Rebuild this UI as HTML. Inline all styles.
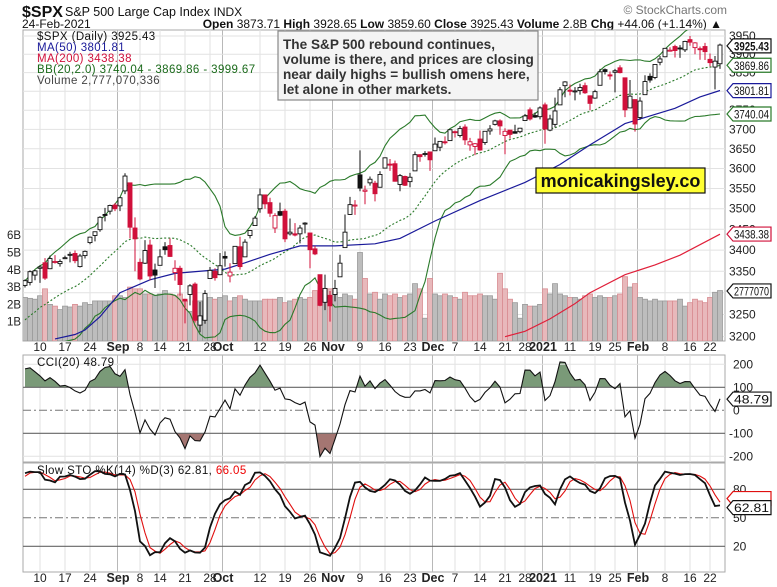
<!DOCTYPE html>
<html><head><meta charset="utf-8"><title>$SPX Daily chart, StockCharts</title>
<style>
html,body{margin:0;padding:0;background:#fff;}
svg{display:block;font-family:"Liberation Sans",Arial,sans-serif;}
</style></head>
<body>
<svg id="chart" width="777" height="587" viewBox="0 0 777 587" xmlns="http://www.w3.org/2000/svg">
<defs>
<clipPath id="cpMain"><rect x="23" y="30" width="702" height="311"/></clipPath>
<clipPath id="cpCci"><rect x="23" y="355" width="702" height="107"/></clipPath>
<clipPath id="cpSto"><rect x="23" y="463" width="702" height="109"/></clipPath>
</defs>
<text x="22" y="17" font-size="16" font-weight="bold" fill="#111">$SPX</text>
<text x="65" y="16" font-size="12.5" fill="#111">S&amp;P 500 Large Cap Index <tspan font-size="12">INDX</tspan></text>
<text x="22" y="28" font-size="12" fill="#111">24-Feb-2021</text>
<text x="722" y="28" font-size="12" fill="#111" text-anchor="end"><tspan font-weight="bold">Open</tspan> 3873.71 <tspan font-weight="bold">High</tspan> 3928.65 <tspan font-weight="bold">Low</tspan> 3859.60 <tspan font-weight="bold">Close</tspan> 3925.43 <tspan font-weight="bold">Volume</tspan> 2.8B <tspan font-weight="bold">Chg</tspan> +44.06 (+1.14%) ▲</text>
<text x="727" y="14" font-size="12" fill="#777" text-anchor="end">© StockCharts.com</text>
<g id="gGrid"></g>
<g id="gVol" clip-path="url(#cpMain)"></g>
<g id="gMain" clip-path="url(#cpMain)"></g>
<g id="gCci" clip-path="url(#cpCci)"></g>
<g id="gSto" clip-path="url(#cpSto)"></g>
<g id="gAxes"></g>
<g id="gLegend" font-size="11.5" letter-spacing="0.4">
<text x="37" y="40" fill="#111">$SPX (Daily) 3925.43</text>
<text x="37" y="51" fill="#1a1a9a">MA(50) 3801.81</text>
<text x="37" y="62" fill="#d0103a">MA(200) 3438.38</text>
<text x="37" y="73" fill="#1a6a1a">BB(20,2.0) 3740.04 - 3869.86 - 3999.67</text>
<text x="37" y="84" fill="#444">Volume 2,777,070,336</text>
<text x="37" y="366" fill="#111">CCI(20) 48.79</text>
<text x="37" y="474" fill="#111">Slow STO %K(14) %D(3) 62.81, <tspan fill="#e00">66.05</tspan></text>
</g>
<g>
<rect x="278" y="31" width="260" height="69" fill="#f4f4f4" stroke="#888" stroke-width="1.2"/>
<text x="283" y="49" font-size="13.6" font-weight="bold" fill="#333">The S&amp;P 500 rebound continues,</text>
<text x="283" y="64" font-size="13.6" font-weight="bold" fill="#333">volume is there, and prices are closing</text>
<text x="283" y="79" font-size="13.6" font-weight="bold" fill="#333">near daily highs = bullish omens here,</text>
<text x="283" y="94" font-size="13.6" font-weight="bold" fill="#333">let alone in other markets.</text>
</g>
<g>
<rect x="536" y="168" width="169" height="25" fill="#ffff33" stroke="#111" stroke-width="1.2"/>
<text x="620.5" y="187" font-size="18" font-weight="bold" fill="#111" text-anchor="middle">monicakingsley.co</text>
</g>
</svg>
<script>
// ---- data ----
const lbHigh=[3184,3171,3179,3186,3235,3198,3238,3218,3228,3258,3278,3279,3280,3227,3242,3243,3262,3250,3272,3302,3307];
const lbLow=[3142,3136,3135,3140,3155,3128,3220,3198,3211,3216,3248,3251,3234,3200,3215,3218,3222,3204,3221,3285,3283];
const lbClose=[3145,3170,3152,3185,3155,3198,3227,3216,3225,3252,3257,3276,3236,3216,3239,3218,3258,3246,3271,3295,3307];
const opens=[3317,3324,3341,3357,3370,3356,3373,3368,3380,3388,3392,3361,3387,3418,3435,3449,3486,3494,3509,
3507,3544,3564,3453,3371,3369,3412,3353,3364,3408,3411,3347,3357,3285,3296,3320,3226,3237,3333,3350,3342,
3385,3339,3368,3408,3384,3435,3459,3500,3534,3515,3453,3493,3494,3439,3439,3439,3465,3441,3403,3342,3278,3294,
3296,3337,3406,3486,3509,3584,3543,3564,3563,3553,3601,3611,3612,3560,3580,3567,3594,3635,3638,3642,
3645,3654,3668,3671,3694,3684,3706,3660,3656,3675,3666,3696,3713,3722,3684,3698,3694,3694,3723,3751,3736,3733,
3764,3698,3713,3764,3815,3803,3801,3802,3815,3788,3782,3816,3858,3844,3851,3863,3836,3756,3778,
3731,3791,3840,3837,3878,3893,3910,3921,3917,3912,3940,3918,3915,3921,3886,3865,3874];
const highs=[3331,3352,3353,3364,3381,3387,3388,3378,3387,3396,3399,3391,3399,3432,3444,3482,3502,3510,3514,
3529,3588,3565,3479,3380,3424,3425,3368,3402,3419,3428,3376,3363,3286,3320,3324,3279,3306,3360,3357,3393,
3397,3369,3409,3432,3426,3447,3482,3550,3534,3527,3489,3515,3500,3476,3465,3460,3467,3441,3410,3342,3342,3304,
3330,3389,3486,3529,3521,3646,3557,3580,3569,3593,3628,3624,3620,3586,3582,3589,3643,3636,3644,3643,
3679,3670,3682,3699,3697,3709,3713,3678,3665,3697,3695,3711,3725,3726,3703,3698,3712,3704,3740,3757,3744,3760,
3770,3738,3783,3811,3827,3818,3811,3820,3823,3789,3804,3860,3861,3853,3860,3870,3836,3830,3778,
3784,3843,3848,3872,3895,3916,3919,3926,3925,3937,3950,3933,3921,3931,3902,3895,3929];
const lows=[3312,3317,3329,3323,3330,3355,3368,3361,3379,3371,3369,3359,3380,3414,3421,3444,3469,3486,3494,
3494,3536,3428,3350,3329,3367,3329,3311,3364,3389,3384,3328,3293,3230,3271,3232,3210,3229,3333,3328,3341,
3361,3324,3367,3354,3384,3428,3458,3490,3500,3480,3441,3482,3419,3435,3433,3416,3440,3357,3388,3269,3260,3234,
3280,3337,3405,3485,3485,3543,3511,3557,3518,3553,3601,3594,3567,3543,3556,3553,3594,3617,3630,3594,
3645,3644,3661,3671,3679,3679,3660,3645,3634,3645,3660,3686,3710,3686,3636,3676,3689,3690,3723,3723,3730,3726,
3663,3695,3705,3764,3784,3789,3776,3791,3793,3750,3780,3816,3845,3831,3797,3848,3732,3756,3694,
3725,3791,3823,3832,3870,3892,3907,3891,3890,3906,3923,3900,3885,3884,3867,3805,3860];
const closes=[3328,3349,3351,3360,3334,3380,3373,3373,3382,3390,3375,3386,3397,3431,3444,3479,3485,3508,3500,
3527,3581,3455,3427,3332,3399,3339,3341,3384,3401,3385,3357,3319,3281,3316,3237,3247,3298,3352,3335,3363,
3381,3348,3409,3361,3419,3447,3477,3534,3512,3489,3483,3484,3427,3443,3436,3453,3465,3401,3391,3271,3310,3270,
3310,3369,3443,3510,3509,3551,3546,3573,3537,3585,3627,3610,3568,3582,3558,3578,3635,3630,3638,3622,
3662,3669,3667,3699,3692,3702,3673,3668,3663,3647,3695,3701,3722,3709,3695,3687,3690,3703,3735,3727,3732,3756,
3701,3727,3748,3804,3825,3800,3801,3810,3796,3768,3799,3852,3853,3841,3855,3850,3751,3787,3714,
3774,3826,3830,3872,3887,3916,3911,3910,3916,3935,3933,3931,3914,3907,3877,3881,3925];
const volumes=[2.4,2.35,2.3,2.5,2.9,2.0,1.9,1.7,1.9,1.85,2.0,1.9,2.1,2.0,2.2,2.2,2.2,2.2,2.5,
2.5,2.4,3.0,2.9,2.9,2.6,2.6,2.5,2.6,2.8,2.6,2.5,2.6,2.2,1.6,2.2,2.2,2.2,2.4,2.3,2.4,
2.5,2.2,2.4,2.5,2.3,2.2,2.2,2.2,2.3,2.3,2.3,2.4,2.1,2.2,2.3,2.4,2.3,2.4,2.8,2.7,2.6,2.9,
2.7,2.4,2.6,2.5,2.3,5.0,3.5,2.6,2.7,2.3,2.6,2.5,2.6,2.4,2.5,2.6,3.2,2.9,1.2,3.5,
2.6,2.5,2.6,2.5,2.4,2.3,2.7,2.5,2.5,2.6,2.5,2.5,2.3,3.8,2.9,2.3,2.1,1.2,2.0,1.9,1.9,2.0,
2.9,2.6,3.2,2.6,2.5,2.4,2.4,2.3,2.5,2.6,2.4,2.5,2.4,2.4,2.5,2.6,3.6,3.0,3.2,
2.4,2.3,2.2,2.3,2.2,2.2,2.2,2.2,2.3,1.9,2.1,2.3,2.2,2.1,2.4,2.7,2.8];
const ma50Idx=[6,10,12,15,19,25,30,40,44,49,55,62,70,75,82,91,100,107,113,120,125,130,135,139];
const ma50Val=[3195,3205,3215,3245,3300,3330,3345,3355,3370,3390,3410,3410,3415,3428,3470,3520,3565,3610,3660,3715,3735,3755,3785,3802];
const ma200Idx=[96,100,105,110,113,120,126,131,139];
const ma200Val=[3200,3212,3240,3275,3300,3342,3365,3388,3438];
const tickIdx=[3,8,13,19,23,27,32,37,40,47,52,57,62,67,72,77,82,86,91,96,100,104,109,114,118,123,128,133,137];
const tickLabels=['10','17','24','Sep','8','14','21','28','Oct','12','19','26','Nov','9','16','23','Dec','7','14','21','28','2021','11','19','25','Feb','8','16','22'];
const monthTicks=['Sep','Oct','Nov','Dec','2021','Feb'];
const priceTicks=[3200,3250,3300,3350,3400,3450,3500,3550,3600,3650,3700,3750,3800,3850,3900,3950];
const volTicks=[1,2,3,4,5,6];
const cciTicks=[200,100,0,-100,-200];
const stoTicks=[80,50,20];

// ---- scales ----
const NS='http://www.w3.org/2000/svg';
const n=closes.length;
const X0=23,X1=725;
function xI(i){return 720-5*(n-1-i);}
function yP(p){return 36+(Math.log(3950)-Math.log(p))*1428;}
function yV(v){return 339-17.3*v;}
function yC(c){return 410.3-0.23*c;}
function yS(s){return 565.3-0.95*s;}
function mk(tag,attrs,parent){const e=document.createElementNS(NS,tag);for(const k in attrs)e.setAttribute(k,attrs[k]);parent.appendChild(e);return e;}
const gGrid=document.getElementById('gGrid'),gVol=document.getElementById('gVol'),gMain=document.getElementById('gMain'),
gCci=document.getElementById('gCci'),gSto=document.getElementById('gSto'),gAxes=document.getElementById('gAxes');

// ---- panels & grid ----
const panels=[[30,341],[355,462],[463,572]];
panels.forEach((p,k)=>{
  const r=mk('rect',{x:X0,y:p[0],width:X1-X0,height:p[1]-p[0],fill:'#fff',stroke:'#aaa','stroke-width':1},gGrid);
  
  
  tickIdx.forEach((ti,j)=>{
    const isM=monthTicks.includes(tickLabels[j]);
    const l=mk('line',{x1:xI(ti)+(isM?-2.5:0),x2:xI(ti)+(isM?-2.5:0),y1:p[0],y2:p[1],stroke:isM?'#b8b8b8':'#e2e2e2','stroke-width':1},gGrid);
    
    
  });
});
priceTicks.forEach(v=>{
  const y=yP(v);
  const l=mk('line',{x1:X0,x2:X1,y1:y,y2:y,stroke:'#e2e2e2'},gGrid);
  
  
  const t=mk('text',{x:729,y:y+4,'font-size':12,fill:'#222'},gAxes);
  t.textContent=v;
  
  
});
volTicks.forEach(v=>{
  const t=mk('text',{x:7,y:yV(v)+4,'font-size':11.5,fill:'#222'},gAxes);
  t.textContent=v+'B';
  
  
});
[[347],[578]].forEach((r,k)=>{
  tickIdx.forEach((ti,j)=>{
    const isM=monthTicks.includes(tickLabels[j]);
    const t=mk('text',{x:xI(ti)+(isM?-2:0),y:r[0]+4,'font-size':isM?12.5:12,'font-weight':isM?'bold':'normal',fill:'#222','text-anchor':'middle'},gAxes);
    t.textContent=tickLabels[j];
    
    
  });
});

// ---- volume ----
for(let i=0;i<n;i++){
  const down=i>0&&closes[i]<closes[i-1];
  const b=mk('rect',{x:xI(i)-2.5,y:yV(volumes[i]),width:5,height:339-yV(volumes[i])+2,fill:down?'#e8b8bb':'#bdbdbd',stroke:down?'#d88c92':'#9a9a9a','stroke-width':0.8},gVol);
  
  
}

// ---- indicators computed from data ----
const allH=lbHigh.concat(highs),allL=lbLow.concat(lows),allC=lbClose.concat(closes);
const L=lbClose.length;
const bbU=[],bbM=[],bbLo=[],cci=[],fastK=[];
for(let i=0;i<n;i++){
  const j=i+L;
  let s=0;for(let k=j-19;k<=j;k++)s+=allC[k];const m=s/20;
  let v=0;for(let k=j-19;k<=j;k++)v+=(allC[k]-m)**2;const sd=Math.sqrt(v/20);
  bbM.push(m);bbU.push(m+2*sd);bbLo.push(m-2*sd);
  const tp=k=>(allH[k]+allL[k]+allC[k])/3;
  let ts=0;for(let k=j-19;k<=j;k++)ts+=tp(k);const tm=ts/20;
  let md=0;for(let k=j-19;k<=j;k++)md+=Math.abs(tp(k)-tm);md/=20;
  cci.push((tp(j)-tm)/(0.015*md));
}
for(let i=-4;i<n;i++){
  const j=i+L;let hh=-1e9,ll=1e9;
  for(let k=j-13;k<=j;k++){hh=Math.max(hh,allH[k]);ll=Math.min(ll,allL[k]);}
  fastK.push(100*(allC[j]-ll)/(hh-ll));
}
const slowK=[];for(let i=2;i<fastK.length;i++)slowK.push((fastK[i]+fastK[i-1]+fastK[i-2])/3);
const slowD=[];for(let i=2;i<slowK.length;i++)slowD.push((slowK[i]+slowK[i-1]+slowK[i-2])/3);
const kS=slowK.slice(slowK.length-n);

function pathFrom(xs,ys){return xs.map((x,i)=>(i?'L':'M')+x.toFixed(1)+','+ys[i].toFixed(1)).join('');}
const xsAll=closes.map((c,i)=>xI(i));

function line(g,d,color,w,dash,name){
  const p=mk('path',{d:d,fill:'none',stroke:color,'stroke-width':w},g);
  if(dash)p.setAttribute('stroke-dasharray',dash);
  
  
  return p;
}
line(gMain,pathFrom(xsAll,bbU.map(yP)),'#2a7a2a',1.1,null,'bb-upper-band');
line(gMain,pathFrom(xsAll,bbLo.map(yP)),'#2a7a2a',1.1,null,'bb-lower-band');
line(gMain,pathFrom(xsAll,bbM.map(yP)),'#2a7a2a',1.1,'2,2','bb-middle-band');
line(gMain,pathFrom(ma50Idx.map(xI),ma50Val.map(yP)),'#1a1a9a',1.2,null,'ma50-line');
line(gMain,pathFrom(ma200Idx.map(xI),ma200Val.map(yP)),'#e0203a',1.2,null,'ma200-line');

// ---- candles ----
for(let i=0;i<n;i++){
  const x=xI(i);const up=closes[i]>=opens[i];
  const col=(i>0&&closes[i]<closes[i-1])?'#d0103a':'#111';
  const w=mk('line',{x1:x,x2:x,y1:yP(highs[i]),y2:yP(lows[i]),stroke:col,'stroke-width':1},gMain);
  
  
  const yt=yP(Math.max(opens[i],closes[i])),yb=yP(Math.min(opens[i],closes[i]));
  const b=mk('rect',{x:x-2,y:yt,width:4,height:Math.max(1,yb-yt),fill:up?'#fff':col,stroke:col,'stroke-width':0.9},gMain);
  
  
}

// ---- CCI ----
const cciY=cci.map(yC);
const cciD=pathFrom(xsAll,cciY);
const up100=yC(100),dn100=yC(-100);
const cpA=mk('clipPath',{id:'cAbove'},gCci);
mk('rect',{x:X0,y:350,width:X1-X0,height:up100-350},cpA);
const cpB=mk('clipPath',{id:'cBelow'},gCci);
mk('rect',{x:X0,y:dn100,width:X1-X0,height:60},cpB);
const fa=mk('path',{d:cciD+'L'+xsAll[n-1]+','+up100+'L'+xsAll[0]+','+up100+'Z',fill:'#7a9a78','clip-path':'url(#cAbove)'},gCci);


const fb=mk('path',{d:cciD+'L'+xsAll[n-1]+','+dn100+'L'+xsAll[0]+','+dn100+'Z',fill:'#a47672','clip-path':'url(#cBelow)'},gCci);


cciTicks.forEach(v=>{
  const y=yC(v);
  if(v===100||v===-100){const l=mk('line',{x1:X0,x2:X1,y1:y,y2:y,stroke:'#666','stroke-width':1.2},gCci);}
  else if(v===0){const l=mk('line',{x1:X0,x2:X1,y1:y,y2:y,stroke:'#777','stroke-width':1,'stroke-dasharray':'8,3,2,3'},gCci);}
  else{const l=mk('line',{x1:X0,x2:X1,y1:y,y2:y,stroke:'#e2e2e2'},gCci);}
  const t=mk('text',{x:v<0?729:733,y:y+4,'font-size':12,fill:'#222'},gAxes);
  t.textContent=v;
  
  
});
line(gCci,cciD,'#111',1.1,null,'cci-line');

// ---- STO ----
stoTicks.forEach(v=>{
  const y=yS(v);
  const l=mk('line',{x1:X0,x2:X1,y1:y,y2:y,stroke:v===50?'#777':'#666','stroke-width':v===50?1:1.2},gSto);
  if(v===50)l.setAttribute('stroke-dasharray','8,3,2,3');
  
  
  const t=mk('text',{x:733,y:y+4,'font-size':12,fill:'#222'},gAxes);
  t.textContent=v;
  
  
});
line(gSto,pathFrom(xsAll,slowD.slice(slowD.length-n).map(yS)),'#e01010',1.1,null,'sto-d-line');
line(gSto,pathFrom(xsAll,kS.map(yS)),'#111',1.8,null,'sto-k-line');

// ---- right-side value tags ----
function tag(y,text,color,bold,name){
  const g=mk('g',{},gAxes);
  
  
  mk('path',{d:`M727,${y} L733,${y-7} L771,${y-7} L771,${y+7} L733,${y+7} Z`,fill:'#fff',stroke:color,'stroke-width':1.2},g);
  if(text){
    const t=mk('text',{x:734,y:y+4.5,'font-size':12,'font-weight':bold?'bold':'normal',fill:'#111',textLength:35,lengthAdjust:'spacingAndGlyphs'},g);
    t.textContent=text;
  }
}
tag(yP(3925.43)+1,'3925.43','#111',true,'last-price-tag');
tag(yP(3869.86),'3869.86','#2a7a2a',false,'bb-mid-tag');
tag(yP(3801.81),'3801.81','#1a1a9a',false,'ma50-tag');
tag(yP(3740.04),'3740.04','#2a7a2a',false,'bb-lower-tag');
tag(yP(3438.38),'3438.38','#d0103a',false,'ma200-tag');
tag(yV(2.777),'2777070','#111',false,'volume-tag');
tag(yC(48.79),'48.79','#111',false,'cci-tag');
tag(yS(66.05)-4,'','#e01010',false,'sto-d-tag');
tag(yS(62.81)+2,'62.81','#111',false,'sto-k-tag');
</script>
</body></html>
